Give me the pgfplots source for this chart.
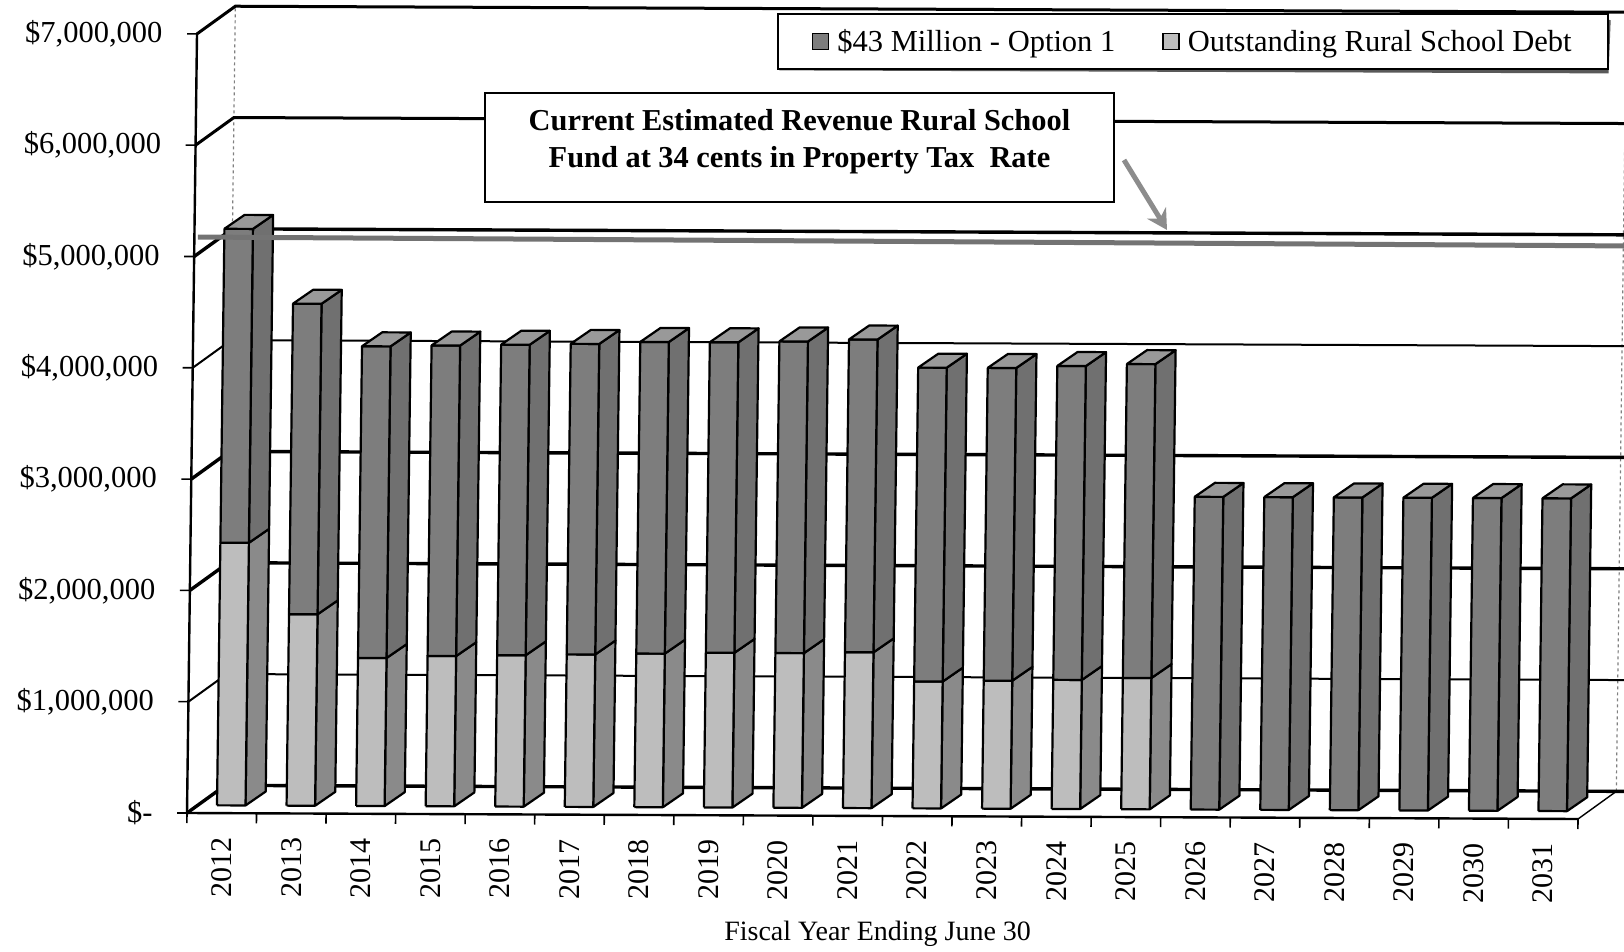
\documentclass[border=0pt]{standalone}
\usepackage{fontspec}
\setmainfont{Liberation Serif}
\usepackage{pgfplots}
\usepackage{pgfplotstable}
\pgfplotsset{compat=1.18}
\usetikzlibrary{arrows.meta}

% Payments per fiscal year, in millions of dollars
\pgfplotstableread{
year debt option
2012 2.36 2.82
2013 1.72 2.79
2014 1.33 2.80
2015 1.35 2.79
2016 1.36 2.79
2017 1.37 2.79
2018 1.38 2.80
2019 1.39 2.79
2020 1.39 2.80
2021 1.40 2.81
2022 1.14 2.82
2023 1.15 2.81
2024 1.16 2.82
2025 1.18 2.82
2026 0.00 2.81
2027 0.00 2.81
2028 0.00 2.81
2029 0.00 2.81
2030 0.00 2.81
2031 0.00 2.81
}\fundtable

% Face tones
\definecolor{upfront}{gray}{0.49}
\definecolor{upside}{gray}{0.44}
\definecolor{lowfront}{gray}{0.74}
\definecolor{lowside}{gray}{0.54}
\definecolor{bartop}{gray}{0.60}

\newcommand{\bigfont}{\fontsize{30.5}{36}\selectfont}

% Oblique offsets for the floor and the bar depth, in axis units
\newcommand{\backdx}{0.546}
\newcommand{\backdy}{0.25}

% One wall line: from the front axis to the back wall, then along it
\newcommand{\wallline}[2]{%
  \pgfmathsetmacro{\yb}{#1+\backdy}%
  \addplot[black,line width=#2,forget plot] coordinates {(0,#1) (\backdx,\yb) (20.8,\yb)};%
}

% One segment of a bar: side, then front
\newcommand{\barpart}[4]{%
  \pgfmathsetmacro{\ybot}{#1+0.07}%
  \pgfmathsetmacro{\ytop}{#2+0.07}%
  \pgfmathsetmacro{\ybots}{\ybot+0.126}%
  \pgfmathsetmacro{\ytops}{\ytop+0.126}%
  \addplot[fill=#4,draw=black,line width=2.2pt,line join=round,forget plot] coordinates
    {(\xb,\ybot) (\xc,\ybots) (\xc,\ytops) (\xb,\ytop) (\xb,\ybot)};%
  \addplot[fill=#3,draw=black,line width=2.2pt,line join=round,forget plot] coordinates
    {(\xa,\ybot) (\xb,\ybot) (\xb,\ytop) (\xa,\ytop) (\xa,\ybot)};%
}

\begin{document}
\begin{tikzpicture}[x=1pt,y=1pt]
\path[use as bounding box] (0,0) rectangle (1624,951);
\begin{axis}[
  at={(187pt,138pt)}, anchor=origin,
  x={(69.55pt,-0.3pt)}, y={(1.43pt,111.3pt)},
  xmin=0, xmax=20, ymin=0, ymax=7,
  clip=false,
  axis lines*=left,
  axis line style={-,black,line width=2.4pt},
  tick align=outside,
  major tick length=10pt,
  ytick={0,1,2,3,4,5,6,7},
  yticklabels={\$-\hspace{28pt},{\$1,000,000},{\$2,000,000},{\$3,000,000},{\$4,000,000},{\$5,000,000},{\$6,000,000},{\$7,000,000}},
  tick style={black,line width=1.6pt},
  xtick={0,1,...,20},
  x tick label as interval,
  xticklabels={2012,2013,2014,2015,2016,2017,2018,2019,2020,2021,2022,2023,2024,2025,2026,2027,2028,2029,2030,2031},
  yticklabel style={font=\bigfont,anchor=east,xshift=-21pt},
  xticklabel style={font=\fontsize{30}{34}\selectfont,rotate=90,anchor=east,xshift=-11pt},
  xlabel={Fiscal Year Ending June 30},
  every axis x label/.style={at={(axis cs:9.93,0)},anchor=north,yshift=-102pt,font=\fontsize{28}{32}\selectfont},
  legend style={
    at={(axis cs:8.33,7.21)},anchor=north west,
    draw=black,line width=2.4pt,fill=white,
    inner xsep=34pt,inner ysep=13.5pt,
    legend columns=2,
    font=\bigfont,
    /tikz/column 2/.style={column sep=45pt},
  },
  legend cell align=left,
  legend image code/.code={\draw[#1,line width=1.6pt] (0pt,-8pt) rectangle (16pt,8pt);},
]

% Back wall: left and right edges, then the value lines
\addplot[gray,line width=1.2pt,dashed,forget plot] coordinates {(\backdx,0.25) (\backdx,7.25)};
\addplot[gray,line width=1.2pt,dashed,forget plot] coordinates {(20.546,0.25) (20.546,7.25)};
\wallline{0}{3.4pt}
\wallline{1}{2pt}
\wallline{2}{3.4pt}
\wallline{3}{3.4pt}
\wallline{4}{2pt}
\wallline{5}{3.4pt}
\wallline{6}{3pt}
\wallline{7}{3pt}
\addplot[black,line width=1.4pt,forget plot] coordinates {(20,0) (20.546,0.25)};

% Shadow along the legend box, under its frame
\addplot[black!65,line width=4.5pt,forget plot] coordinates {(8.38,6.715) (20.27,6.72) (20.29,7.18)};

% Legend keys
\addlegendimage{fill=upfront,draw=black}
\addlegendentry{\hspace{6pt}\$43 Million - Option 1}
\addlegendimage{fill=lowfront,draw=black}
\addlegendentry{\hspace{6pt}Outstanding Rural School Debt}

% Stacked bars with their oblique faces
\pgfplotsinvokeforeach{0,...,19}{
  \pgfplotstablegetelem{#1}{debt}\of\fundtable \let\debtval\pgfplotsretval
  \pgfplotstablegetelem{#1}{option}\of\fundtable \let\optval\pgfplotsretval
  \pgfmathsetmacro{\total}{\debtval+\optval}
  \pgfmathsetmacro{\xa}{#1+0.43}
  \pgfmathsetmacro{\xb}{#1+0.84}
  \pgfmathsetmacro{\xc}{#1+1.128}
  \pgfmathsetmacro{\ytf}{\total+0.07}
  \pgfmathsetmacro{\ytb}{\total+0.196}
  \pgfmathsetmacro{\xd}{#1+0.718}
  \pgfmathparse{\debtval>0 ? 1 : 0}
  \ifnum\pgfmathresult>0
    \barpart{0}{\debtval}{lowfront}{lowside}
  \fi
  \barpart{\debtval}{\total}{upfront}{upside}
  \addplot[fill=bartop,draw=black,line width=2.2pt,line join=round,forget plot] coordinates
    {(\xa,\ytf) (\xb,\ytf) (\xc,\ytb) (\xd,\ytb) (\xa,\ytf)};
}

% Revenue level at 34 cents
\addplot[black!55,line width=5pt,forget plot] coordinates {(0.05,5.175) (20.8,5.15)};
\end{axis}

\node[draw=black,fill=white,line width=2.4pt,minimum width=629pt,minimum height=109pt,
      inner sep=0pt] (callout) at (799.5,803.5) {};
\node[align=center,font=\fontsize{30.4}{37}\selectfont\bfseries,inner sep=0pt] at (799.5,809.5)
  {Current Estimated Revenue Rural School\\Fund at 34 cents in Property Tax\ \ Rate};

\draw[black!45,line width=5pt,-{Stealth[length=20pt,width=22pt]}] (1124,791) -- (1167,721);
\end{tikzpicture}
\end{document}
